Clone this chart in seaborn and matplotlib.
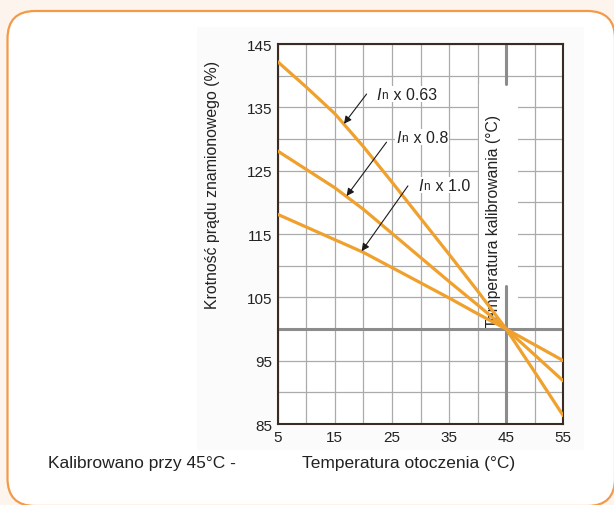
import numpy as np
import pandas as pd
import matplotlib
matplotlib.use("Agg")
import matplotlib.pyplot as plt
import matplotlib.transforms as mtransforms
from matplotlib.patches import FancyBboxPatch, Rectangle
import seaborn as sns

# Data
temperature = [5, 10, 15, 20, 25, 30, 35, 40, 45, 50, 55]
in_063 = [142.2, 138.2, 134.0, 128.8, 123.2, 117.5, 111.8, 106.0, 100.0, 93.2, 86.3]
in_08 = [128.1, 125.2, 122.3, 118.9, 115.1, 111.3, 107.5, 103.8, 100.0, 95.9, 91.8]
in_10 = [118.1, 116.1, 114.1, 112.1, 109.7, 107.3, 104.9, 102.4, 100.0, 97.5, 95.0]
series_names = ["0.63", "0.8", "1.0"]

x_ticks = [5, 15, 25, 35, 45, 55]
y_ticks = [85, 95, 105, 115, 125, 135, 145]

# label anchor, arrow tail, arrow head (data coords)
label_pos = {"0.63": (22.3, 137.1), "0.8": (25.7, 130.3), "1.0": (29.65, 122.7)}
arrow_tail = {"0.63": (20.56, 137.1), "0.8": (24.05, 129.5), "1.0": (27.8, 122.6)}
arrow_head = {"0.63": (16.6, 132.4), "0.8": (17.06, 121.0), "1.0": (19.7, 112.3)}

df = pd.DataFrame({
    "temp": temperature * 3,
    "val": in_063 + in_08 + in_10,
    "series": sum([[s] * len(temperature) for s in series_names], []),
})

sns.set_style("white")
plt.rcParams["font.family"] = ["Liberation Sans", "DejaVu Sans"]

orange = "#f0a02c"
grey_ref = "#8c8c8c"
txt = "#222222"
W, H = 614, 506
fig = plt.figure(figsize=(W / 100, H / 100), dpi=100)
fig.patch.set_facecolor("#fdf4ee")

# rounded white panel with orange border
fig.patches.append(FancyBboxPatch((7.5 / W, 1 - 507 / H), (615 - 7.5) / W, (507 - 12) / H,
                                  boxstyle="round,pad=0,rounding_size=0.045",
                                  transform=fig.transFigure, facecolor="white",
                                  edgecolor="#f39a48", linewidth=1.6,
                                  mutation_aspect=W / H, zorder=-2))
fig.patches.append(Rectangle((197 / W, 1 - 451 / H), (584 - 197) / W, (451 - 28) / H,
                             transform=fig.transFigure, facecolor="#fbfbfb",
                             edgecolor="none", zorder=-1))

ax = fig.add_axes([277.7 / W, 1 - 425 / H, (563.3 - 277.7) / W, (425 - 45) / H])
ax.set_facecolor("white")

sns.lineplot(data=df, x="temp", y="val", hue="series",
             palette=[orange] * 3, linewidth=2.3, legend=False, ax=ax, zorder=3)

ax.set_xlim(5, 55)
ax.set_ylim(85, 145)
ax.set_xticks(np.arange(5, 56, 5))
ax.set_xticklabels([str(t) if t in x_ticks else "" for t in np.arange(5, 56, 5)])
ax.set_yticks(np.arange(85, 146, 5))
ax.set_yticklabels([str(t) if t in y_ticks else "" for t in np.arange(85, 146, 5)])
ax.tick_params(length=0, labelsize=11, colors=txt, pad=4)
ax.grid(True, color="#ababab", linewidth=0.9)
ax.set_axisbelow(True)
for sp in ax.spines.values():
    sp.set_color("#3a2b25")
    sp.set_linewidth(1.5)
ax.set_xlabel("")
ax.set_ylabel("")

# white gap behind the vertical calibration label
ax.add_patch(Rectangle((40.2, 104.7), 6.8, 34.0, facecolor="white",
                       edgecolor="none", zorder=1.2))
ax.text(42.8, 117.1, "Temperatura kalibrowania (°C)", rotation=90,
        ha="center", va="center", fontsize=11.3, color=txt, zorder=1.5)

# calibration reference lines
ax.axhline(100, color=grey_ref, linewidth=2.2, zorder=2)
ax.plot([45, 45], [145, 138.7], color=grey_ref, linewidth=2.2, zorder=2)
ax.plot([45, 45], [106.8, 85], color=grey_ref, linewidth=2.2, zorder=2)

# labels with arrows
for s in series_names:
    ax.annotate("", xy=arrow_head[s], xytext=arrow_tail[s],
                arrowprops=dict(arrowstyle="-|>", color="#1a1a1a", lw=0.8,
                                mutation_scale=11, shrinkA=0, shrinkB=0),
                zorder=4)
    lx, ly = label_pos[s]
    ax.text(lx, ly, "I", style="italic", fontsize=11.5, ha="left", va="center",
            color=txt, zorder=4,
            bbox=dict(facecolor="white", edgecolor="none", pad=0.5))
    tr = mtransforms.offset_copy(ax.transData, fig=fig, x=3.6, y=-0.7, units="points")
    ax.text(lx, ly, "n", fontsize=8.5, ha="left", va="center", color=txt,
            transform=tr, zorder=4)
    tr2 = mtransforms.offset_copy(ax.transData, fig=fig, x=9.2, y=0, units="points")
    ax.text(lx, ly, " x " + s, fontsize=11.5, ha="left", va="center", color=txt,
            transform=tr2, zorder=4,
            bbox=dict(facecolor="white", edgecolor="none", pad=0.5))

# axis titles placed as in the reference
fig.text(213 / W, 1 - 185 / H, "Krotność prądu znamionowego (%)", rotation=90,
         ha="center", va="center", fontsize=11.4, color=txt)
fig.text(48 / W, 1 - 464 / H, "Kalibrowano przy 45°C -", ha="left", va="center",
         fontsize=12.5, color=txt)
fig.text(302 / W, 1 - 464 / H, "Temperatura otoczenia (°C)", ha="left", va="center",
         fontsize=12.5, color=txt)

fig.savefig("out.png", dpi=100, facecolor=fig.get_facecolor())
